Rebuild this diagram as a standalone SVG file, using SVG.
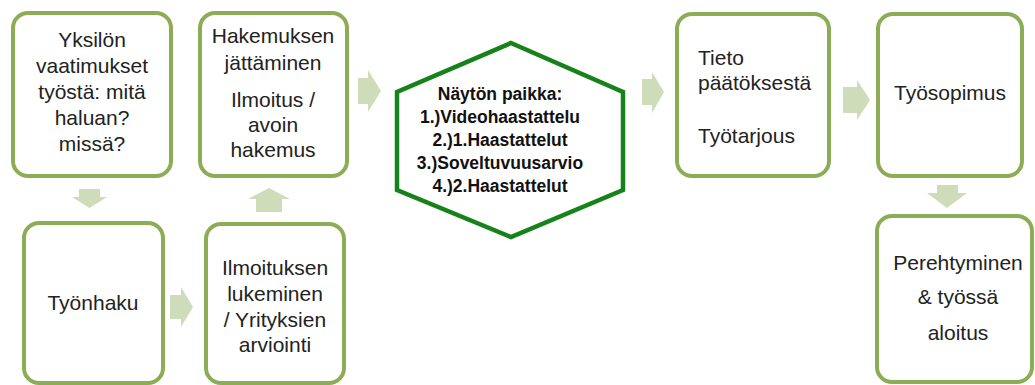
<svg xmlns="http://www.w3.org/2000/svg" width="1035" height="385" viewBox="0 0 1035 385">
  <style>
    .box { fill: #ffffff; stroke: #8cad55; stroke-width: 4; }
    .hex { fill: #ffffff; stroke: #17821a; stroke-width: 4.5; stroke-linejoin: miter; }
    .arrow { fill: #cfdcb9; stroke: none; }
    .t { font-family: "Liberation Sans", Arial, sans-serif; font-size: 21px; fill: #222222; text-anchor: middle; }
    .tl { text-anchor: start; }
    .hb { font-family: "Liberation Sans", Arial, sans-serif; font-size: 17.5px; font-weight: bold; fill: #111111; text-anchor: middle; }
  </style>

  <rect width="1035" height="385" fill="#ffffff"/>

  <!-- block arrows between steps -->
  <g id="connectors">
    <!-- Yksilön -> Työnhaku (down) -->
    <polygon class="arrow" points="79,189 100,189 100,197 107,197 89.5,208 72,197 79,197"/>
    <!-- Työnhaku -> Ilmoituksen (right) -->
    <polygon class="arrow" points="170,295 181,295 181,287 193,307 181,327 181,319 170,319"/>
    <!-- Ilmoituksen -> Hakemuksen (up) -->
    <polygon class="arrow" points="256,212 282,212 282,199 290,199 269,188 248,199 256,199"/>
    <!-- Hakemuksen -> Näytön paikka (right) -->
    <polygon class="arrow" points="358,78 368,78 368,70 381,91 368,112 368,104 358,104"/>
    <!-- Näytön paikka -> Tieto (right) -->
    <polygon class="arrow" points="642,79 652,79 652,72 664,92 652,113 652,105 642,105"/>
    <!-- Tieto -> Työsopimus (right) -->
    <polygon class="arrow" points="843,87 857,87 857,80 870,100 857,120 857,113 843,113"/>
    <!-- Työsopimus -> Perehtyminen (down) -->
    <polygon class="arrow" points="937,185 958,185 958,193 967,193 947,208 927,193 937,193"/>
  </g>

  <g id="node-yksilon">
    <rect class="box" x="13" y="13" width="158" height="163" rx="15"/>
    <text class="t" x="92" y="47">Yksilön</text>
    <text class="t" x="92" y="73">vaatimukset</text>
    <text class="t" x="92" y="99">työstä: mitä</text>
    <text class="t" x="92" y="125">haluan?</text>
    <text class="t" x="92" y="151">missä?</text>
  </g>

  <g id="node-hakemuksen">
    <rect class="box" x="200" y="13" width="147" height="163" rx="15"/>
    <text class="t" x="273" y="43">Hakemuksen</text>
    <text class="t" x="273" y="70">jättäminen</text>
    <text class="t" x="273" y="107">Ilmoitus /</text>
    <text class="t" x="273" y="132">avoin</text>
    <text class="t" x="273" y="157">hakemus</text>
  </g>

  <g id="node-tyonhaku">
    <rect class="box" x="24" y="223" width="139" height="160" rx="15"/>
    <text class="t" x="93" y="310">Työnhaku</text>
  </g>

  <g id="node-ilmoituksen">
    <rect class="box" x="206" y="224" width="138" height="159" rx="15"/>
    <text class="t" x="275" y="275">Ilmoituksen</text>
    <text class="t" x="275" y="301">lukeminen</text>
    <text class="t" x="275" y="327">/ Yrityksien</text>
    <text class="t" x="275" y="352">arviointi</text>
  </g>

  <g id="node-nayton-paikka">
    <polygon class="hex" points="511,43 623,92 623,190 511,237 397,190 397,92"/>
    <text class="hb" x="500" y="100">Näytön paikka:</text>
    <text class="hb" x="500" y="123">1.)Videohaastattelu</text>
    <text class="hb" x="500" y="146">2.)1.Haastattelut</text>
    <text class="hb" x="500" y="169">3.)Soveltuvuusarvio</text>
    <text class="hb" x="500" y="192">4.)2.Haastattelut</text>
  </g>

  <g id="node-tieto">
    <rect class="box" x="677" y="14" width="152" height="162" rx="15"/>
    <text class="t tl" x="698" y="65">Tieto</text>
    <text class="t tl" x="698" y="90">päätöksestä</text>
    <text class="t tl" x="698" y="143">Työtarjous</text>
  </g>

  <g id="node-tyosopimus">
    <rect class="box" x="878" y="14" width="144" height="162" rx="15"/>
    <text class="t" x="950" y="100">Työsopimus</text>
  </g>

  <g id="node-perehtyminen">
    <rect class="box" x="877" y="216" width="155" height="166" rx="15"/>
    <text class="t" x="958" y="270">Perehtyminen</text>
    <text class="t" x="958" y="304">&amp; työssä</text>
    <text class="t" x="958" y="340">aloitus</text>
  </g>
</svg>
